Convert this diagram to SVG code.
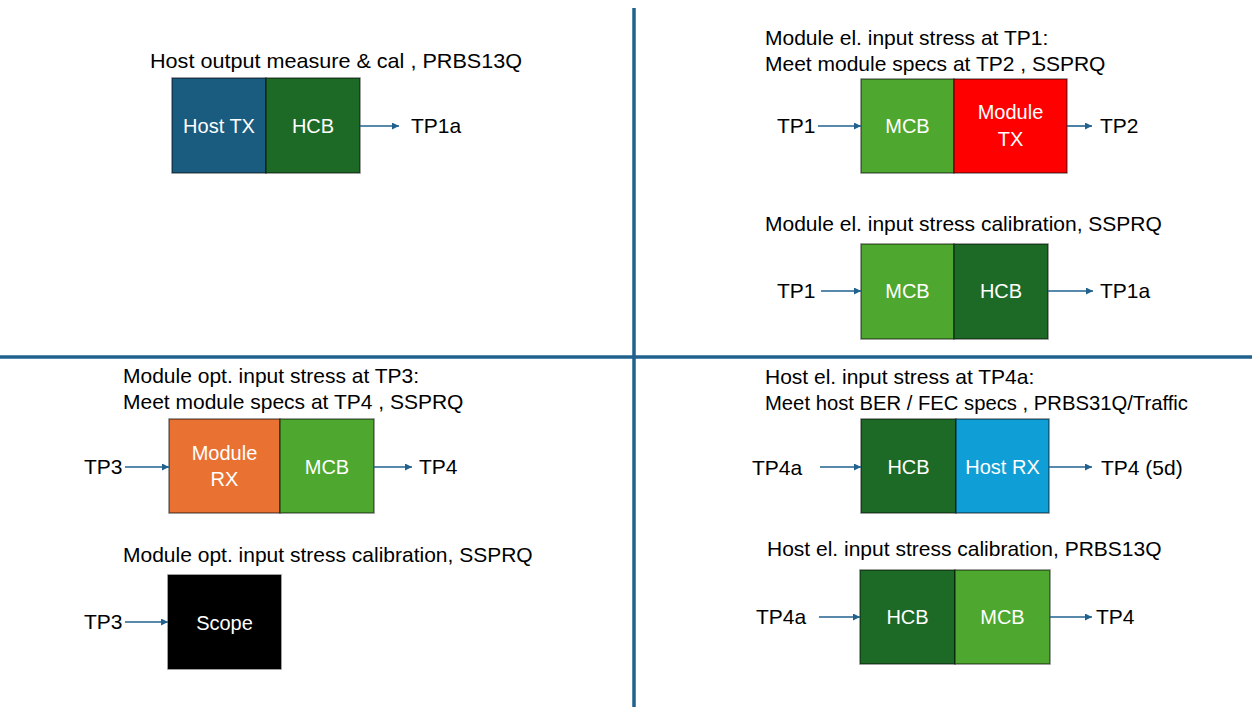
<svg xmlns="http://www.w3.org/2000/svg" width="1252" height="707" viewBox="0 0 1252 707">
  <style>
    text { font-family: "Liberation Sans", Arial, sans-serif; font-size: 21px; fill: #000; }
    .lbl { fill: #fff; font-size: 20px; text-anchor: middle; }
    .box { stroke: #000; stroke-opacity: 0.5; stroke-width: 1.5; }
    .hosttx { fill: #1a5b80; }
    .hcb { fill: #1d6a26; }
    .mcb { fill: #4ea72e; }
    .modtx { fill: #ff0000; }
    .modrx { fill: #e97132; }
    .hostrx { fill: #0f9ed5; }
    .scope { fill: #000; }
    .divider { stroke: #20618e; stroke-width: 3.5; fill: none; }
    .wire { stroke: #20618e; stroke-width: 1.6; fill: none; marker-end: url(#arr); }
  </style>
  <defs>
    <marker id="arr" viewBox="0 0 10 10" refX="10" refY="5" markerWidth="8" markerHeight="7" markerUnits="userSpaceOnUse" orient="auto">
      <path d="M0,0 L10,5 L0,10 z" fill="#20618e"/>
    </marker>
  </defs>

  <rect width="1252" height="707" fill="#fff"/>

  <!-- quadrant dividers -->
  <g id="dividers">
    <line class="divider" x1="634" y1="8" x2="634" y2="707"/>
    <line class="divider" x1="0" y1="357" x2="1252" y2="357"/>
  </g>

  <!-- section captions -->
  <g id="captions">
    <text x="150" y="68" textLength="372" lengthAdjust="spacingAndGlyphs">Host output measure &amp; cal , PRBS13Q</text>
    <text x="765" y="45">Module el. input stress at TP1:</text>
    <text x="765" y="71">Meet module specs at TP2 , SSPRQ</text>
    <text x="765" y="231">Module el. input stress calibration, SSPRQ</text>
    <text x="123" y="383">Module opt. input stress at TP3:</text>
    <text x="123" y="409">Meet module specs at TP4 , SSPRQ</text>
    <text x="123" y="562">Module opt. input stress calibration, SSPRQ</text>
    <text x="765" y="384">Host el. input stress at TP4a:</text>
    <text x="765" y="410" textLength="423" lengthAdjust="spacingAndGlyphs">Meet host BER / FEC specs , PRBS31Q/Traffic</text>
    <text x="767" y="556">Host el. input stress calibration, PRBS13Q</text>
  </g>

  <!-- test points -->
  <g id="test-points">
    <text x="411" y="133">TP1a</text>
    <text x="777" y="133">TP1</text>
    <text x="1100" y="133">TP2</text>
    <text x="777" y="298">TP1</text>
    <text x="1100" y="298">TP1a</text>
    <text x="84" y="474">TP3</text>
    <text x="419" y="474">TP4</text>
    <text x="84" y="629">TP3</text>
    <text x="752" y="475">TP4a</text>
    <text x="1101" y="475">TP4 (5d)</text>
    <text x="756" y="624">TP4a</text>
    <text x="1096" y="624">TP4</text>
  </g>

  <!-- host output measurement -->
  <g id="q1-host-tx">
    <rect class="box hosttx" x="172" y="78" width="94" height="95"/>
    <text class="lbl" x="219" y="133">Host TX</text>
  </g>
  <g id="q1-hcb">
    <rect class="box hcb" x="266" y="78" width="94" height="95"/>
    <text class="lbl" x="313" y="133">HCB</text>
  </g>

  <!-- module electrical input stress -->
  <g id="q2-mcb">
    <rect class="box mcb" x="861" y="79" width="93" height="94"/>
    <text class="lbl" x="907.5" y="133">MCB</text>
  </g>
  <g id="q2-module-tx">
    <rect class="box modtx" x="954" y="79" width="113" height="94"/>
    <text class="lbl" x="1010.5" y="119">Module</text>
    <text class="lbl" x="1010.5" y="146">TX</text>
  </g>

  <!-- module electrical input stress calibration -->
  <g id="q2-cal-mcb">
    <rect class="box mcb" x="861" y="244" width="93" height="95"/>
    <text class="lbl" x="907.5" y="298">MCB</text>
  </g>
  <g id="q2-cal-hcb">
    <rect class="box hcb" x="954" y="244" width="94" height="95"/>
    <text class="lbl" x="1001" y="298">HCB</text>
  </g>

  <!-- module optical input stress -->
  <g id="q3-module-rx">
    <rect class="box modrx" x="169" y="419" width="111" height="94"/>
    <text class="lbl" x="224.5" y="460">Module</text>
    <text class="lbl" x="224.5" y="486">RX</text>
  </g>
  <g id="q3-mcb">
    <rect class="box mcb" x="280" y="419" width="94" height="94"/>
    <text class="lbl" x="327" y="474">MCB</text>
  </g>

  <!-- module optical input stress calibration -->
  <g id="q3-scope">
    <rect class="box scope" x="168" y="575" width="113" height="94"/>
    <text class="lbl" x="224.5" y="630">Scope</text>
  </g>

  <!-- host electrical input stress -->
  <g id="q4-hcb">
    <rect class="box hcb" x="861" y="419" width="95" height="94"/>
    <text class="lbl" x="908.5" y="474">HCB</text>
  </g>
  <g id="q4-host-rx">
    <rect class="box hostrx" x="956" y="419" width="93" height="94"/>
    <text class="lbl" x="1002.5" y="474">Host RX</text>
  </g>

  <!-- host electrical input stress calibration -->
  <g id="q4-cal-hcb">
    <rect class="box hcb" x="860" y="570" width="95" height="94"/>
    <text class="lbl" x="907.5" y="624">HCB</text>
  </g>
  <g id="q4-cal-mcb">
    <rect class="box mcb" x="955" y="570" width="95" height="94"/>
    <text class="lbl" x="1002.5" y="624">MCB</text>
  </g>

  <!-- signal connectors -->
  <g id="connectors">
    <line class="wire" x1="360" y1="126" x2="399" y2="126"/>
    <line class="wire" x1="818" y1="126" x2="861" y2="126"/>
    <line class="wire" x1="1067" y1="126" x2="1092" y2="126"/>
    <line class="wire" x1="821" y1="291" x2="861" y2="291"/>
    <line class="wire" x1="1048" y1="291" x2="1093" y2="291"/>
    <line class="wire" x1="125" y1="467" x2="169" y2="467"/>
    <line class="wire" x1="374" y1="467" x2="412" y2="467"/>
    <line class="wire" x1="125" y1="622" x2="168" y2="622"/>
    <line class="wire" x1="820" y1="467" x2="861" y2="467"/>
    <line class="wire" x1="1049" y1="467" x2="1092" y2="467"/>
    <line class="wire" x1="819" y1="617" x2="860" y2="617"/>
    <line class="wire" x1="1050" y1="617" x2="1092" y2="617"/>
  </g>
</svg>
